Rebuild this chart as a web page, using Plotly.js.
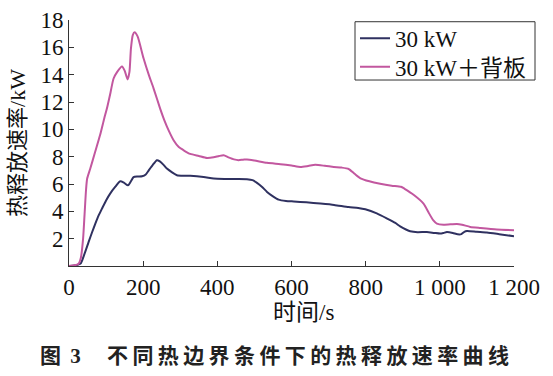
<!DOCTYPE html>
<html>
<head>
<meta charset="utf-8">
<script src="https://cdn.plot.ly/plotly-3.0.1.min.js"></script>
<style>
  html, body { margin: 0; padding: 0; background: #fff; }
  #wrap { position: relative; width: 553px; height: 376px; }
  #chart { position: absolute; left: 0; top: 0; width: 553px; height: 376px; }
  .cap { position: absolute; top: 339px; font-weight: 700; font-size: 21px; color: #222; white-space: pre; }
  #cap1 { left: 40px; letter-spacing: 2px; font-family: "Liberation Serif", "Noto Sans CJK SC", serif; }
  #cap2 { left: 107px; letter-spacing: 4.4px; font-family: "Noto Sans CJK SC", sans-serif; }
</style>
</head>
<body>
<div id="wrap">
  <div id="chart"></div>
  <div class="cap" id="cap1">图 3</div>
  <div class="cap" id="cap2">不同热边界条件下的热释放速率曲线</div>
</div>
<script>
// Series 1: 30 kW
const t1 = [0,10,25,32,42,53,62,71,80,89,100,111,125,138,148,159,167,174,185,197,207,215,226,237,245,255,264,278,291,310,327,363,390,420,450,480,495,507,520,534,550,565,585,606,640,678,715,754,780,799,830,858,880,893,910,920,940,965,985,1001,1010,1019,1035,1048,1058,1066,1073,1100,1127,1160,1200];
const v1 = [0,0.02,0.1,0.2,0.9,1.76,2.45,3.1,3.7,4.2,4.8,5.3,5.8,6.2,6.1,5.9,6.2,6.5,6.55,6.57,6.7,7.0,7.4,7.74,7.65,7.4,7.13,6.85,6.64,6.6,6.6,6.52,6.4,6.37,6.36,6.35,6.28,6.08,5.8,5.42,5.1,4.86,4.76,4.72,4.66,4.57,4.47,4.32,4.25,4.15,3.85,3.47,3.15,2.9,2.65,2.54,2.47,2.49,2.42,2.37,2.42,2.49,2.42,2.32,2.33,2.5,2.56,2.5,2.45,2.33,2.18];
// Series 2: 30 kW + 背板
const t2 = [0,15,26,32,38,42,46,49,57,70,84,95,102,112,120,130,143,150,158,163,167,172,177,185,201,215,228,246,258,269,282,296,310,327,350,372,390,405,417,430,445,457,470,480,500,534,570,600,624,645,664,690,714,735,754,770,786,810,839,870,895,905,930,956,970,982,992,1010,1046,1060,1082,1110,1154,1200];
const v2 = [0,0.05,0.17,0.6,2.0,3.8,5.6,6.4,7.1,8.3,9.6,10.8,11.5,12.7,13.7,14.2,14.6,14.3,13.65,14.2,15.9,16.9,17.1,16.8,15.2,14.0,13.0,11.5,10.6,9.9,9.2,8.7,8.45,8.2,8.05,7.9,7.95,8.05,8.1,7.95,7.8,7.74,7.78,7.8,7.72,7.55,7.45,7.35,7.25,7.32,7.4,7.33,7.25,7.2,7.1,6.75,6.42,6.2,6.02,5.88,5.8,5.65,5.2,4.57,3.9,3.35,3.1,3.02,3.08,3.02,2.86,2.78,2.67,2.62];
const seriesNames = ["30 kW", "30 kW＋背板"];
const seriesColors = ["#2f3160", "#c2579f"];
const xTickVals = [0,200,400,600,800,1000,1200];
const xTickText = ["0","200","400","600","800","1 000","1 200"];
const yTickVals = [2,4,6,8,10,12,14,16,18];
const xTitle = "时间/s";
const yTitle = "热释放速率/kW";

const serif = "Liberation Serif, Noto Sans CJK SC, serif";
const txt = "#111";
const traces = [
  {x: t1, y: v1, name: seriesNames[0], type: "scatter", mode: "lines", legend: "legend",
   line: {color: seriesColors[0], width: 2, shape: "spline", smoothing: 0.6}},
  {x: t2, y: v2, name: seriesNames[1], type: "scatter", mode: "lines", legend: "legend2",
   line: {color: seriesColors[1], width: 2, shape: "spline", smoothing: 0.6}}
];
const legendCommon = {x: 0.6427, xanchor: "left", yanchor: "middle", borderwidth: 0,
  bgcolor: "rgba(0,0,0,0)", font: {family: serif, size: 23, color: txt}};
const layout = {
  width: 553, height: 376,
  margin: {l: 69, r: 39, t: 20, b: 110, autoexpand: false},
  paper_bgcolor: "#fff", plot_bgcolor: "#fff",
  font: {family: serif, size: 23, color: txt},
  showlegend: true,
  legend: Object.assign({}, legendCommon, {y: 0.9256}),
  legend2: Object.assign({}, legendCommon, {y: 0.8102}),
  shapes: [{type: "rect", xref: "paper", yref: "paper", x0: 0.6427, x1: 1.0472, y0: 0.756, y1: 0.993,
    line: {color: "#333", width: 1}, fillcolor: "rgba(0,0,0,0)", layer: "above"}],
  annotations: [{text: xTitle, xref: "paper", yref: "paper", x: 0.528, y: -0.19,
    xanchor: "center", yanchor: "middle", showarrow: false,
    font: {family: serif, size: 23, color: txt}}],
  xaxis: {range: [0, 1200], tickvals: xTickVals, ticktext: xTickText,
    ticks: "inside", ticklen: 5, tickcolor: "#333", showline: true, linecolor: "#333", linewidth: 1,
    showgrid: false, zeroline: false, tickfont: {family: serif, size: 23, color: txt}},
  yaxis: {range: [0, 18], tickvals: yTickVals,
    ticks: "inside", ticklen: 5, tickcolor: "#333", showline: true, linecolor: "#333", linewidth: 1,
    showgrid: false, zeroline: false, tickfont: {family: serif, size: 23, color: txt},
    title: {text: yTitle, font: {family: serif, size: 22, color: txt}, standoff: 8}}
};
Plotly.newPlot("chart", traces, layout, {staticPlot: true, displayModeBar: false});
</script>
</body>
</html>
